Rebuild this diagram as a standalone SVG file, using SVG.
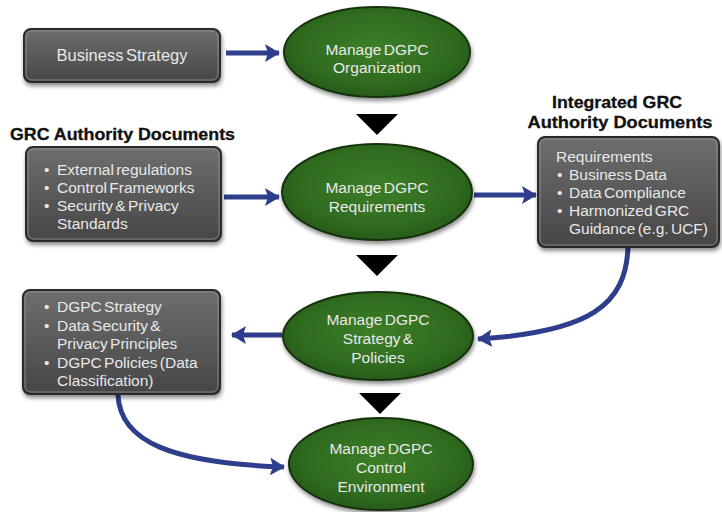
<svg xmlns="http://www.w3.org/2000/svg" width="722" height="512" viewBox="0 0 722 512">
<defs>
<style>
.box{fill:url(#gbox);stroke:#2a2a2a;stroke-width:2;filter:url(#sh)}
.boxrim{fill:none;stroke:#9a9a9a;stroke-width:1;opacity:.7}
.ell{fill:url(#gell);stroke:#16300c;stroke-width:2;filter:url(#sh)}
.t{font-family:"Liberation Sans",Arial,sans-serif;fill:#e8e8e8;font-size:15.5px;word-spacing:-2px}
.tc{text-anchor:middle;font-size:15.5px}
.h{font-family:"Liberation Sans",Arial,sans-serif;font-weight:bold;fill:#111111;font-size:16.5px;stroke:#111111;stroke-width:0.3}
.con{fill:none;stroke:#2f3e8c;stroke-width:5;marker-end:url(#ah)}
.tri{fill:#000}
</style>
<linearGradient id="gbox" x1="0" y1="0" x2="0" y2="1">
<stop offset="0" stop-color="#6e6e6e"/>
<stop offset="0.5" stop-color="#5a5a5a"/>
<stop offset="1" stop-color="#464646"/>
</linearGradient>
<radialGradient id="gell" cx="0.5" cy="0.45" r="0.6">
<stop offset="0" stop-color="#3c7f28"/>
<stop offset="0.7" stop-color="#2f6a1f"/>
<stop offset="1" stop-color="#245517"/>
</radialGradient>
<filter id="sh" x="-10%" y="-10%" width="125%" height="135%">
<feDropShadow dx="1" dy="3" stdDeviation="2" flood-color="#000" flood-opacity="0.45"/>
</filter>
<marker id="ah" markerUnits="userSpaceOnUse" markerWidth="18" markerHeight="20" refX="14" refY="9" orient="auto">
<path d="M0,0 L15,9 L0,18 L3,9 z" fill="#2f3e8c"/>
</marker>
</defs>
<rect width="722" height="512" fill="#ffffff"/>

<g id="connectors">
<path class="con" d="M226,53 L279,53"/>
<path class="con" d="M224,197 L279,197"/>
<path class="con" d="M474,195 L536,195"/>
<path class="con" d="M282,335 L232,335"/>
<path class="con" d="M628,247 C626,305 590,332 478,339"/>
<path class="con" d="M118,395 C120,442 172,463 284,467"/>
<polygon class="tri" points="356,114 398,114 377,135"/>
<polygon class="tri" points="356,255 398,255 377,276"/>
<polygon class="tri" points="359,393 401,393 380,414"/>
</g>

<g id="business-strategy">
<rect class="box" x="24" y="29" width="196" height="53" rx="7"/>
<rect class="boxrim" x="26" y="31" width="192" height="49" rx="6"/>
<text class="t tc" x="122" y="61" style="font-size:16.5px">Business Strategy</text>
</g>

<g id="grc-heading">
<text class="h" x="10" y="140" textLength="225" lengthAdjust="spacingAndGlyphs">GRC Authority Documents</text>
</g>

<g id="grc-box">
<rect class="box" x="26" y="147" width="195" height="94" rx="7"/>
<rect class="boxrim" x="28" y="149" width="191" height="90" rx="6"/>
<text class="t" x="44" y="175">•</text><text class="t" x="57" y="175">External regulations</text>
<text class="t" x="44" y="193">•</text><text class="t" x="57" y="193">Control Frameworks</text>
<text class="t" x="44" y="211">•</text><text class="t" x="57" y="211">Security &amp; Privacy</text>
<text class="t" x="57" y="229">Standards</text>
</g>

<g id="integrated-heading">
<text class="h" x="617" y="108" text-anchor="middle" textLength="130" lengthAdjust="spacingAndGlyphs">Integrated GRC</text>
<text class="h" x="620" y="128" text-anchor="middle" textLength="185" lengthAdjust="spacingAndGlyphs">Authority Documents</text>
</g>

<g id="integrated-box">
<rect class="box" x="538" y="137" width="181" height="110" rx="7"/>
<rect class="boxrim" x="540" y="139" width="177" height="106" rx="6"/>
<text class="t" x="556" y="162">Requirements</text>
<text class="t" x="557" y="180">•</text><text class="t" x="569" y="180">Business Data</text>
<text class="t" x="557" y="198">•</text><text class="t" x="569" y="198">Data Compliance</text>
<text class="t" x="557" y="216">•</text><text class="t" x="569" y="216">Harmonized GRC</text>
<text class="t" x="569" y="234">Guidance (e.g. UCF)</text>
</g>

<g id="policies-box">
<rect class="box" x="23" y="290" width="197" height="104" rx="7"/>
<rect class="boxrim" x="25" y="292" width="193" height="100" rx="6"/>
<text class="t" x="44" y="312">•</text><text class="t" x="57" y="312">DGPC Strategy</text>
<text class="t" x="44" y="331">•</text><text class="t" x="57" y="331">Data Security &amp;</text>
<text class="t" x="57" y="349">Privacy Principles</text>
<text class="t" x="44" y="368">•</text><text class="t" x="57" y="368">DGPC Policies (Data</text>
<text class="t" x="57" y="386">Classification)</text>
</g>

<g id="manage-organization">
<ellipse class="ell" cx="377" cy="52" rx="93" ry="45"/>
<text class="t tc" x="377" y="55">Manage DGPC</text>
<text class="t tc" x="377" y="73">Organization</text>
</g>

<g id="manage-requirements">
<ellipse class="ell" cx="377" cy="192" rx="95" ry="48"/>
<text class="t tc" x="377" y="193">Manage DGPC</text>
<text class="t tc" x="377" y="212">Requirements</text>
</g>

<g id="manage-strategy-policies">
<ellipse class="ell" cx="378" cy="336" rx="95" ry="44"/>
<text class="t tc" x="378" y="325">Manage DGPC</text>
<text class="t tc" x="378" y="344">Strategy &amp;</text>
<text class="t tc" x="378" y="363">Policies</text>
</g>

<g id="manage-control-environment">
<ellipse class="ell" cx="381" cy="464" rx="92" ry="46"/>
<text class="t tc" x="381" y="454">Manage DGPC</text>
<text class="t tc" x="381" y="473">Control</text>
<text class="t tc" x="381" y="492">Environment</text>
</g>
</svg>
